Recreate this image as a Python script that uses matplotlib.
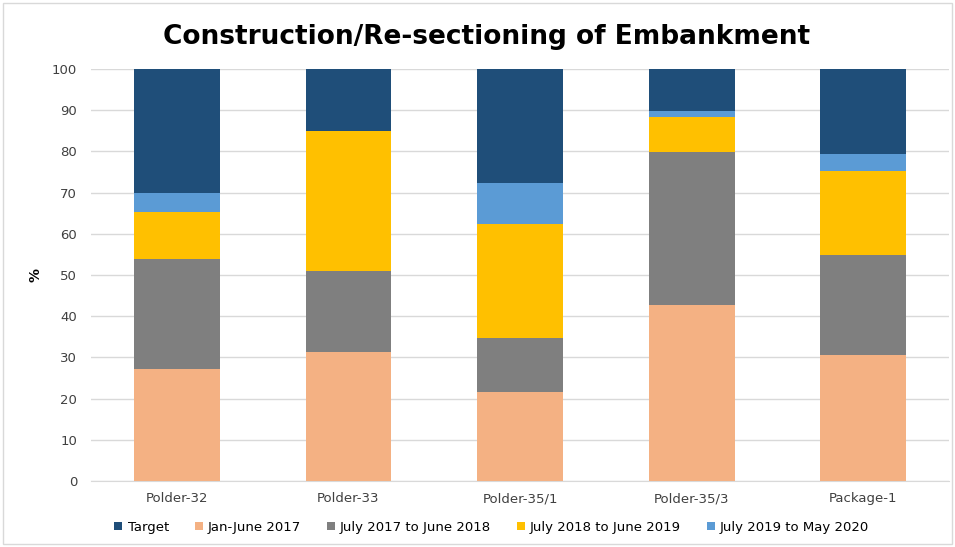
import numpy as np
import matplotlib.pyplot as plt
from matplotlib.patches import Rectangle

categories = ['Polder-32', 'Polder-33', 'Polder-35/1', 'Polder-35/3', 'Package-1']
jan_june_2017 = [27.1, 31.4, 21.7, 42.6, 30.7]
jul17_jun18 = [26.7, 19.6, 13.1, 37.3, 24.2]
jul18_jun19 = [11.4, 34.0, 27.5, 8.5, 20.3]
jul19_may20 = [4.8, 0.0, 10.1, 1.3, 4.1]
target = [30.0, 15.0, 27.6, 10.3, 20.7]

series = [
    ('Jan-June 2017', jan_june_2017, '#F4B183'),
    ('July 2017 to June 2018', jul17_jun18, '#7F7F7F'),
    ('July 2018 to June 2019', jul18_jun19, '#FFC000'),
    ('July 2019 to May 2020', jul19_may20, '#5B9BD5'),
    ('Target', target, '#1F4E79'),
]

fig = plt.figure(figsize=(9.55, 5.47), dpi=100)
ax = fig.add_axes([91/955, 1-481/547, 858/955, 412/547])

x = np.arange(len(categories))
bottom = np.zeros(len(categories))
handles = {}
for name, vals, col in series:
    b = ax.bar(x, vals, width=0.5, bottom=bottom, color=col, label=name, zorder=3)
    handles[name] = b
    bottom += np.array(vals)

ax.set_ylim(0, 100)
ax.set_xlim(-0.5, len(categories) - 0.5)
ax.set_yticks(range(0, 101, 10))
ax.yaxis.grid(True, color='#D9D9D9', linewidth=1, zorder=0)
ax.set_xticks(x)
ax.set_xticklabels(categories)
ax.tick_params(axis='both', length=0, labelsize=9.5, colors='#404040')
ax.tick_params(axis='x', pad=8)
ax.tick_params(axis='y', pad=10)
for s in ['top', 'right', 'left']:
    ax.spines[s].set_visible(False)
ax.spines['bottom'].set_color('#D9D9D9')

ax.set_ylabel('%', fontsize=10, fontweight='bold', labelpad=7)

fig.text(0.51, 1-37/547, 'Construction/Re-sectioning of Embankment',
         ha='center', va='center', fontsize=19, fontweight='bold')

order = ['Target', 'Jan-June 2017', 'July 2017 to June 2018',
         'July 2018 to June 2019', 'July 2019 to May 2020']
fig.legend([handles[n] for n in order], order, loc='center',
           bbox_to_anchor=(0.515, 1-527/547), ncol=5, frameon=False,
           fontsize=9.5, handlelength=0.6, handleheight=0.6,
           handletextpad=0.4, columnspacing=1.95)

fig.patches.append(Rectangle((0.003, 0.005), 0.994, 0.99, transform=fig.transFigure,
                             fill=False, edgecolor='#D9D9D9', linewidth=1))

fig.savefig('out.png', dpi=100)
